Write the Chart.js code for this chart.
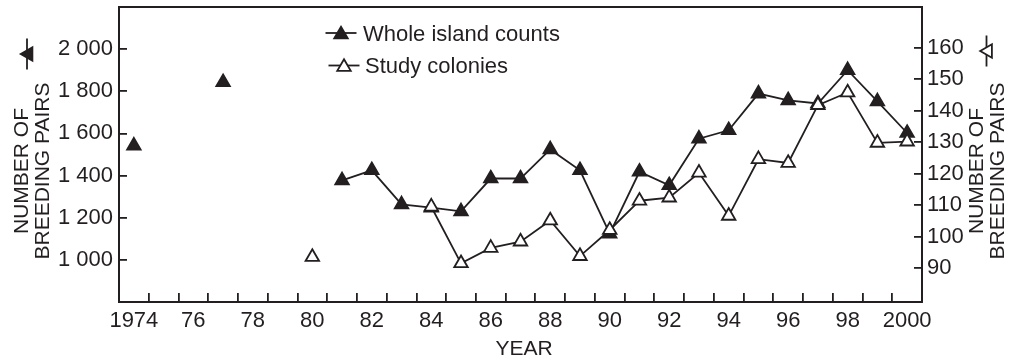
<!DOCTYPE html>
<html>
<head>
<meta charset="utf-8">
<script src="https://cdn.jsdelivr.net/npm/chart.js@4/dist/chart.umd.min.js"></script>
<style>
  html, body { margin: 0; padding: 0; background: #fff; }
  #wrap { width: 1010px; height: 358px; position: relative; }
</style>
</head>
<body>
<div id="wrap"><canvas id="chart"></canvas></div>
<script>
// Breeding pairs per year, 1974–2000 (null = no count that year)
const years = [1974, 1975, 1976, 1977, 1978, 1979, 1980, 1981, 1982, 1983, 1984, 1985, 1986,
  1987, 1988, 1989, 1990, 1991, 1992, 1993, 1994, 1995, 1996, 1997, 1998, 1999, 2000];

const wholeIsland = [1542, null, null, 1843, null, null, null, 1377, 1425, 1263, 1248, 1230, 1386,
  1386, 1524, 1425, 1124, 1418, 1354, 1575, 1615, 1789, 1757, 1742, 1900, 1752, 1602];

const studyColonies = [null, null, null, null, null, null, 93.5, null, null, null, 109.5, 91.5, 96.4,
  98.4, 105.1, 93.8, 102.1, 111.4, 112.4, 120.3, 106.6, 124.6, 123.4, 141.8, 145.8, 129.8, 130.2];

// Axis tick values
const yearLabelTicks = [1974, 1976, 1978, 1980, 1982, 1984, 1986, 1988, 1990, 1992, 1994, 1996, 1998, 2000];
const yearMarkTicks = [1974.5, 1975.5, 1976.5, 1977.5, 1978.5, 1979.5, 1980.5, 1981.5, 1982.5, 1983.5,
  1984.5, 1985.5, 1986.5, 1987.5, 1988.5, 1989.5, 1990.5, 1991.5, 1992.5, 1993.5, 1994.5, 1995.5,
  1996.5, 1997.5, 1998.5, 1999.5];
const leftTicks = [1000, 1200, 1400, 1600, 1800, 2000];
const rightTicks = [90, 100, 110, 120, 130, 140, 150, 160];

const seriesNames = ['Whole island counts', 'Study colonies'];
const yTitle = ['NUMBER OF', 'BREEDING PAIRS'];
const xTitle = 'YEAR';

const INK = '#231f20';
const FONT = '"Liberation Sans", Arial, Helvetica, sans-serif';

Chart.defaults.font.family = FONT;
Chart.defaults.font.size = 22;
Chart.defaults.color = INK;

const toPoints = (vals) => years.map((x, i) => ({ x: x, y: vals[i] }));

// Triangle + line key symbol; angle rotates the whole symbol
function keySymbol(ctx, cx, cy, angle, filled) {
  const r = 7.8;
  ctx.save();
  ctx.translate(cx, cy);
  ctx.rotate(angle);
  ctx.lineWidth = 1.8;
  ctx.strokeStyle = INK;
  ctx.beginPath();
  ctx.moveTo(-15.5, 0);
  ctx.lineTo(15.5, 0);
  ctx.stroke();
  const oy = 1.5;
  ctx.beginPath();
  ctx.moveTo(0, oy - r);
  ctx.lineTo(r * Math.sin(2 * Math.PI / 3), oy + r / 2);
  ctx.lineTo(-r * Math.sin(2 * Math.PI / 3), oy + r / 2);
  ctx.closePath();
  ctx.fillStyle = filled ? INK : '#fff';
  ctx.fill();
  ctx.stroke();
  ctx.restore();
}

function verticalText(ctx, text, x, y) {
  ctx.save();
  ctx.translate(x, y);
  ctx.rotate(-Math.PI / 2);
  ctx.fillText(text, 0, 0);
  ctx.restore();
}

const decorations = {
  id: 'decorations',
  afterDraw(chart) {
    const ctx = chart.ctx;
    ctx.save();
    ctx.fillStyle = INK;

    // Axis titles
    ctx.font = '21px ' + FONT;
    ctx.textAlign = 'center';
    ctx.textBaseline = 'middle';
    verticalText(ctx, yTitle[0], 22.5, 171);
    verticalText(ctx, yTitle[1], 43, 171);
    verticalText(ctx, yTitle[0], 977, 171);
    verticalText(ctx, yTitle[1], 998, 171);
    ctx.fillText(xTitle, 524, 349);

    // Axis keys: which series belongs to which axis
    keySymbol(ctx, 27, 54, -Math.PI / 2, true);
    keySymbol(ctx, 986.5, 51, -Math.PI / 2, false);

    // Legend
    ctx.font = '22px ' + FONT;
    ctx.textAlign = 'left';
    ctx.textBaseline = 'alphabetic';
    keySymbol(ctx, 341, 33, 0, true);
    ctx.fillText(seriesNames[0], 363, 41);
    keySymbol(ctx, 344, 65.5, 0, false);
    ctx.fillText(seriesNames[1], 365, 73);
    ctx.restore();
  }
};

const lineStyle = {
  borderColor: INK,
  borderWidth: 1.8,
  pointStyle: 'triangle',
  pointRadius: 7.8,
  pointBorderWidth: 1.8,
  pointBorderColor: INK,
  spanGaps: false,
  tension: 0,
  fill: false
};

function noPadding(scale) {
  scale.paddingTop = 0;
  scale.paddingBottom = 0;
  scale.paddingLeft = 0;
  scale.paddingRight = 0;
}

new Chart(document.getElementById('chart'), {
  type: 'line',
  data: {
    datasets: [
      Object.assign({}, lineStyle, {
        label: seriesNames[0],
        data: toPoints(wholeIsland),
        yAxisID: 'y',
        pointBackgroundColor: INK,
        order: 2
      }),
      Object.assign({}, lineStyle, {
        label: seriesNames[1],
        data: toPoints(studyColonies),
        yAxisID: 'y2',
        pointBackgroundColor: '#ffffff',
        order: 1
      })
    ]
  },
  options: {
    responsive: true,
    maintainAspectRatio: false,
    animation: false,
    events: [],
    layout: { autoPadding: false, padding: { top: 7, left: 0, right: 0, bottom: 0 } },
    plugins: { legend: { display: false }, tooltip: { enabled: false } },
    scales: {
      x: {
        type: 'linear',
        position: 'bottom',
        min: 1973.5,
        max: 2000.5,
        afterBuildTicks(scale) {
          scale.ticks = yearMarkTicks.concat(yearLabelTicks)
            .sort((a, b) => a - b)
            .map(v => ({ value: v }));
        },
        afterFit(scale) { scale.height = 56; noPadding(scale); },
        ticks: {
          autoSkip: false,
          maxRotation: 0,
          padding: 15,
          callback(v) {
            if (!yearLabelTicks.includes(v)) return '';
            return (v === 1974 || v === 2000) ? String(v) : String(v % 100).padStart(2, '0');
          }
        },
        grid: {
          drawOnChartArea: false,
          tickLength: -9,
          lineWidth: 1.8,
          color: INK,
          tickColor: (c) => (c.tick && Number.isInteger(c.tick.value)) ? 'rgba(0,0,0,0)' : INK
        },
        border: { display: true, color: INK, width: 2 }
      },
      xTop: {
        type: 'linear',
        position: 'top',
        min: 1973.5,
        max: 2000.5,
        afterFit(scale) { scale.height = 0; noPadding(scale); },
        ticks: { display: false },
        grid: { display: false, drawTicks: false },
        border: { display: true, color: INK, width: 2 }
      },
      y: {
        type: 'linear',
        position: 'left',
        min: 800,
        max: 2200,
        afterBuildTicks(scale) { scale.ticks = leftTicks.map(v => ({ value: v })); },
        afterFit(scale) { scale.width = 119; noPadding(scale); },
        ticks: {
          padding: 14,
          callback(v) {
            const s = String(v);
            return s.length > 3 ? s.slice(0, s.length - 3) + ' ' + s.slice(-3) : s;
          }
        },
        grid: { drawOnChartArea: false, tickLength: -8, lineWidth: 1.8, color: INK },
        border: { display: true, color: INK, width: 2 }
      },
      y2: {
        type: 'linear',
        position: 'right',
        min: 79.2,
        max: 173,
        afterBuildTicks(scale) { scale.ticks = rightTicks.map(v => ({ value: v })); },
        afterFit(scale) { scale.width = 88; noPadding(scale); },
        ticks: { padding: 13 },
        grid: { drawOnChartArea: false, tickLength: -8, lineWidth: 1.8, color: INK },
        border: { display: true, color: INK, width: 2 }
      }
    }
  },
  plugins: [decorations]
});
</script>
</body>
</html>
